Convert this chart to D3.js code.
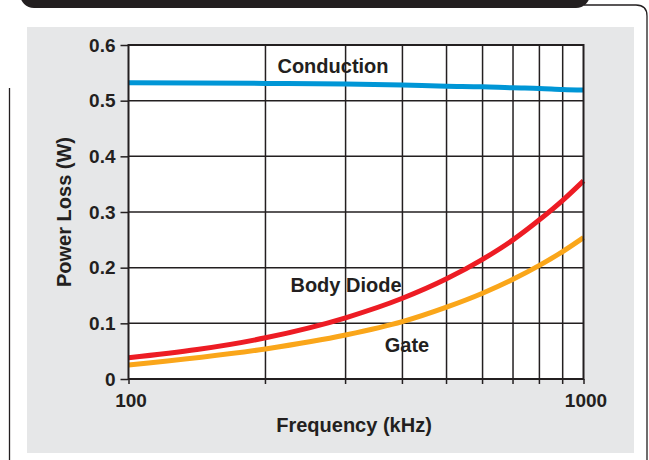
<!DOCTYPE html>
<html><head><meta charset="utf-8">
<script src="https://cdn.jsdelivr.net/npm/d3@7"></script>
<style>body{margin:0;background:#fff}svg{display:block}text{font-family:"Liberation Sans",Arial,sans-serif;font-weight:bold;fill:#231f20}</style>
</head><body>
<script>
const freqs = [100,200,300,400,500,600,700,800,900,1000];
const conduction = [0.532,0.531,0.530,0.528,0.526,0.525,0.523,0.522,0.520,0.519];
const bodyDiode = [0.038,0.074,0.110,0.145,0.180,0.215,0.250,0.286,0.321,0.356];
const gate = [0.025,0.054,0.079,0.103,0.129,0.154,0.179,0.204,0.229,0.254];
const yTicks = [0,0.1,0.2,0.3,0.4,0.5,0.6];
const xTickLabels = [100,1000];
const xGrid = [200,300,400,500,600,700,800,900];

const W=649,H=460;
const svg=d3.select("body").append("svg").attr("width",W).attr("height",H);
// frame
svg.append("rect").attr("x",20).attr("y",-20).attr("width",570).attr("height",28).attr("rx",14).attr("fill","#231f20");
svg.append("path").attr("d","M584,5 L636,5 Q647,5 647,16 L647,460").attr("fill","none").attr("stroke","#231f20").attr("stroke-width",1.3);
svg.append("line").attr("x1",9.5).attr("x2",9.5).attr("y1",88).attr("y2",460).attr("stroke","#231f20").attr("stroke-width",1.3);
svg.append("rect").attr("x",27).attr("y",27).attr("width",607).attr("height",426).attr("fill","#e6e7e8");

const x=d3.scaleLog().domain([100,1000]).range([128.5,583.5]);
const y=d3.scaleLinear().domain([0,0.6]).range([379,45]);
svg.append("rect").attr("x",x(100)).attr("y",y(0.6)).attr("width",x(1000)-x(100)).attr("height",y(0)-y(0.6)).attr("fill","#fff");

const gc="#231f20";
// grid
svg.append("g").selectAll("line").data(xGrid).join("line")
 .attr("x1",d=>x(d)).attr("x2",d=>x(d)).attr("y1",y(0.6)).attr("y2",y(0)+5)
 .attr("stroke",gc).attr("stroke-width",1.5);
svg.append("g").selectAll("line").data(yTicks.filter(d=>d>0)).join("line")
 .attr("x1",x(100)).attr("x2",x(1000)).attr("y1",d=>y(d)).attr("y2",d=>y(d))
 .attr("stroke",gc).attr("stroke-width",1.5);

// curves
const line=d3.line().x(d=>x(d[0])).y(d=>y(d[1])).curve(d3.curveMonotoneX);
const series=[{v:conduction,c:"#0096d6"},{v:gate,c:"#faa61a"},{v:bodyDiode,c:"#ed1c24"}];
series.forEach(s=>{
 svg.append("path").datum(freqs.map((f,i)=>[f,s.v[i]])).attr("d",line)
  .attr("fill","none").attr("stroke",s.c).attr("stroke-width",5);
});

// axes
const yAxis=d3.axisLeft(y).tickValues(yTicks).tickSize(8).tickPadding(5).tickFormat(d=>d===0?"0":d3.format(".1f")(d));
const ga=svg.append("g").attr("transform",`translate(${x(100)},0)`).call(yAxis);
ga.select(".domain").remove();
ga.selectAll(".tick line").attr("stroke",gc).attr("stroke-width",1.5);
ga.selectAll(".tick text").style("font-size","19px").attr("fill",gc);
const xAxis=d3.axisBottom(x).tickValues(xTickLabels).tickSize(5).tickPadding(10).tickFormat(d3.format("d"));
const gx=svg.append("g").attr("transform",`translate(0,${y(0)})`).call(xAxis);
gx.select(".domain").remove();
gx.selectAll(".tick line").attr("stroke",gc).attr("stroke-width",1.5);
gx.selectAll(".tick text").style("font-size","19px").attr("fill",gc).attr("dx",2);
// frame borders
svg.append("rect").attr("x",x(100)).attr("y",y(0.6)).attr("width",x(1000)-x(100)).attr("height",y(0)-y(0.6))
 .attr("fill","none").attr("stroke",gc).attr("stroke-width",2);

// labels
svg.append("text").attr("x",354).attr("y",432).attr("text-anchor","middle").style("font-size","20px").text("Frequency (kHz)");
svg.append("text").attr("transform","translate(71,212) rotate(-90)").attr("text-anchor","middle").style("font-size","20px").text("Power Loss (W)");
svg.append("text").attr("x",333).attr("y",73).attr("text-anchor","middle").style("font-size","20px").text("Conduction");
svg.append("text").attr("x",346).attr("y",292).attr("text-anchor","middle").style("font-size","20px").text("Body Diode");
svg.append("text").attr("x",407).attr("y",352).attr("text-anchor","middle").style("font-size","20px").text("Gate");
</script>
</body></html>
